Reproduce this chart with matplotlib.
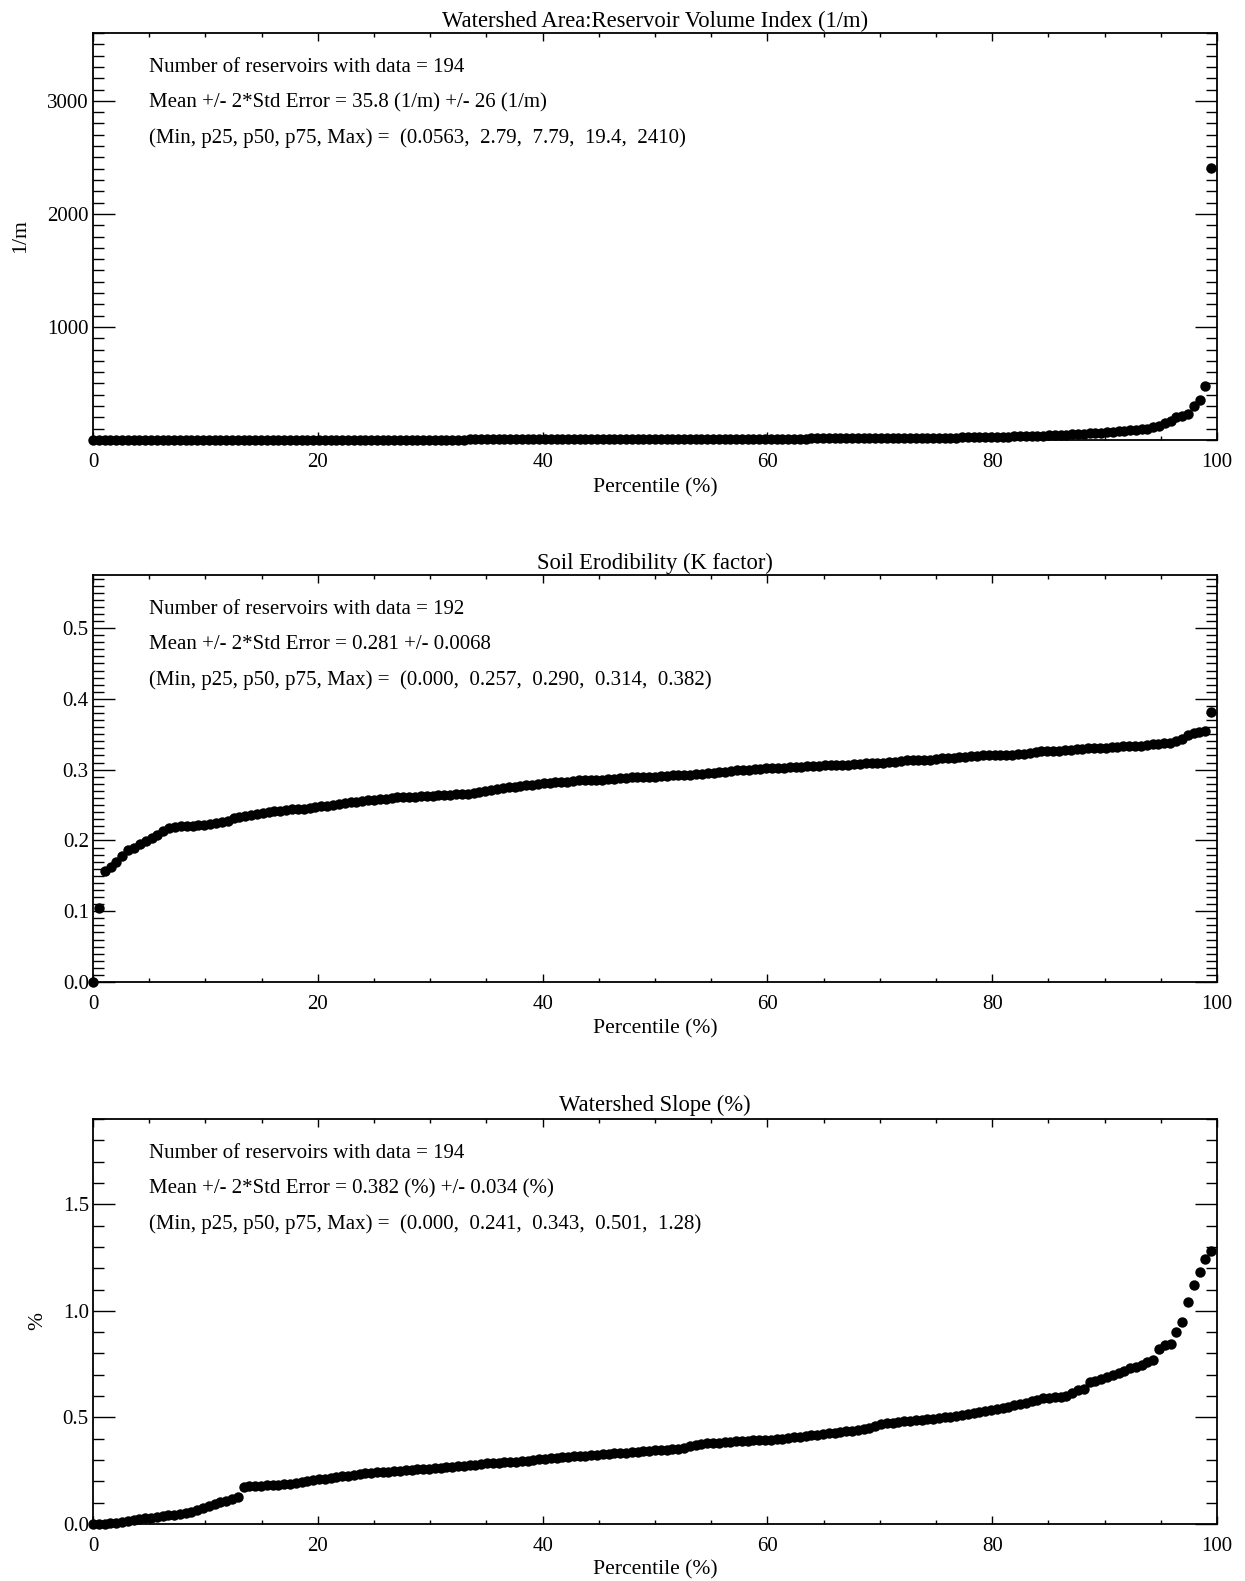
import matplotlib
matplotlib.use("Agg")
import matplotlib.pyplot as plt
from matplotlib.ticker import MultipleLocator, FixedLocator, FormatStrFormatter

plt.rcParams['font.family'] = ['Liberation Serif', 'DejaVu Serif']

# ---------------- data (sorted values) ----------------
titles = ["Watershed Area:Reservoir Volume Index (1/m)",
          "Soil Erodibility (K factor)",
          "Watershed Slope (%)"]
ylabels = ["1/m", "", "%"]
notes = [
    ["Number of reservoirs with data = 194",
     "Mean +/- 2*Std Error = 35.8 (1/m) +/- 26 (1/m)",
     "(Min, p25, p50, p75, Max) =  (0.0563,  2.79,  7.79,  19.4,  2410)"],
    ["Number of reservoirs with data = 192",
     "Mean +/- 2*Std Error = 0.281 +/- 0.0068",
     "(Min, p25, p50, p75, Max) =  (0.000,  0.257,  0.290,  0.314,  0.382)"],
    ["Number of reservoirs with data = 194",
     "Mean +/- 2*Std Error = 0.382 (%) +/- 0.034 (%)",
     "(Min, p25, p50, p75, Max) =  (0.000,  0.241,  0.343,  0.501,  1.28)"],
]

wa_rv_index = [
    0.0563, 0.14, 0.25, 0.36, 0.47, 0.58, 0.68, 0.78, 0.88, 0.98,
    1.07, 1.16, 1.25, 1.33, 1.41, 1.49, 1.56, 1.63, 1.70, 1.77,
    1.83, 1.89, 1.95, 2.01, 2.06, 2.11, 2.16, 2.21, 2.26, 2.30,
    2.34, 2.38, 2.42, 2.46, 2.50, 2.53, 2.56, 2.59, 2.62, 2.65,
    2.67, 2.69, 2.71, 2.73, 2.75, 2.76, 2.77, 2.78, 2.79, 2.88,
    2.98, 3.08, 3.18, 3.28, 3.38, 3.48, 3.58, 3.68, 3.78, 3.88,
    3.98, 4.08, 4.18, 4.28, 4.38, 4.48, 4.58, 4.68, 4.78, 4.88,
    4.98, 5.08, 5.18, 5.28, 5.38, 5.48, 5.58, 5.68, 5.78, 5.88,
    5.98, 6.08, 6.19, 6.30, 6.41, 6.52, 6.63, 6.74, 6.85, 6.96,
    7.07, 7.18, 7.30, 7.42, 7.54, 7.66, 7.79, 7.95, 8.11, 8.27,
    8.43, 8.60, 8.77, 8.94, 9.11, 9.29, 9.47, 9.65, 9.83, 10.0,
    10.2, 10.4, 10.6, 10.8, 11.0, 11.2, 11.4, 11.6, 11.8, 12.0,
    12.2, 12.5, 12.8, 13.1, 13.4, 13.7, 14.0, 14.3, 14.6, 14.9,
    15.2, 15.5, 15.8, 16.1, 16.4, 16.7, 17.0, 17.3, 17.6, 17.9,
    18.2, 18.5, 18.8, 19.1, 19.4, 19.8, 20.3, 20.8, 21.4, 22.0,
    22.7, 23.4, 24.2, 25.0, 25.9, 26.8, 27.8, 28.8, 29.9, 31.0,
    33.0, 34.5, 36.0, 37.5, 39.0, 40.5, 42.0, 44.0, 46.0, 49.5,
    53.0, 56.0, 59.0, 62.0, 66.0, 70.0, 74.0, 78.0, 82.0, 86.0,
    90.0, 95.0, 100.0, 112.0, 128.0, 150.0, 170.0, 205.0, 215.0, 230.0,
    305.0, 350.0, 477.0, 2410.0,
]

k_factor = [
    0.000, 0.105, 0.157, 0.163, 0.170, 0.178, 0.186, 0.190, 0.195, 0.199,
    0.203, 0.208, 0.213, 0.217, 0.219, 0.220, 0.220, 0.221, 0.222, 0.222,
    0.223, 0.224, 0.226, 0.228, 0.231, 0.233, 0.235, 0.236, 0.238, 0.239,
    0.240, 0.241, 0.242, 0.243, 0.244, 0.245, 0.245, 0.246, 0.247, 0.248,
    0.249, 0.250, 0.251, 0.253, 0.255, 0.255, 0.256, 0.257, 0.257, 0.258,
    0.259, 0.260, 0.261, 0.261, 0.262, 0.262, 0.263, 0.263, 0.263, 0.264,
    0.264, 0.264, 0.265, 0.265, 0.266, 0.267, 0.268, 0.270, 0.271, 0.273,
    0.274, 0.275, 0.276, 0.277, 0.278, 0.279, 0.280, 0.281, 0.281, 0.282,
    0.283, 0.283, 0.284, 0.285, 0.285, 0.286, 0.286, 0.286, 0.287, 0.287,
    0.288, 0.288, 0.289, 0.289, 0.289, 0.290, 0.290, 0.291, 0.291, 0.292,
    0.292, 0.293, 0.293, 0.294, 0.294, 0.295, 0.295, 0.296, 0.297, 0.298,
    0.299, 0.300, 0.300, 0.301, 0.301, 0.302, 0.302, 0.303, 0.303, 0.304,
    0.304, 0.304, 0.305, 0.305, 0.305, 0.306, 0.306, 0.307, 0.307, 0.307,
    0.308, 0.308, 0.309, 0.309, 0.310, 0.310, 0.311, 0.311, 0.312, 0.313,
    0.313, 0.314, 0.314, 0.314, 0.315, 0.316, 0.316, 0.317, 0.318, 0.318,
    0.319, 0.319, 0.320, 0.320, 0.320, 0.321, 0.321, 0.321, 0.322, 0.322,
    0.324, 0.325, 0.326, 0.326, 0.327, 0.327, 0.328, 0.328, 0.329, 0.329,
    0.330, 0.330, 0.331, 0.331, 0.332, 0.332, 0.333, 0.333, 0.334, 0.334,
    0.335, 0.336, 0.336, 0.337, 0.338, 0.340, 0.344, 0.349, 0.352, 0.353,
    0.354, 0.382,
]

slope = [
    0.000, 0.000, 0.001, 0.003, 0.006, 0.010, 0.014, 0.019, 0.023, 0.026,
    0.029, 0.032, 0.036, 0.040, 0.044, 0.047, 0.051, 0.057, 0.065, 0.075,
    0.085, 0.095, 0.103, 0.110, 0.118, 0.128, 0.172, 0.176, 0.178, 0.180,
    0.181, 0.182, 0.184, 0.186, 0.189, 0.193, 0.198, 0.202, 0.206, 0.209,
    0.212, 0.215, 0.219, 0.223, 0.227, 0.231, 0.234, 0.237, 0.240, 0.242,
    0.244, 0.246, 0.248, 0.250, 0.252, 0.254, 0.256, 0.258, 0.260, 0.262,
    0.264, 0.266, 0.268, 0.270, 0.272, 0.275, 0.279, 0.282, 0.284, 0.286,
    0.288, 0.290, 0.291, 0.293, 0.295, 0.297, 0.300, 0.304, 0.307, 0.309,
    0.311, 0.313, 0.315, 0.317, 0.319, 0.321, 0.323, 0.325, 0.327, 0.329,
    0.331, 0.333, 0.335, 0.337, 0.339, 0.341, 0.343, 0.345, 0.347, 0.349,
    0.351, 0.354, 0.358, 0.365, 0.372, 0.376, 0.378, 0.380, 0.382, 0.384,
    0.386, 0.388, 0.390, 0.391, 0.392, 0.393, 0.394, 0.396, 0.398, 0.401,
    0.404, 0.407, 0.410, 0.413, 0.416, 0.419, 0.422, 0.425, 0.428, 0.431,
    0.434, 0.438, 0.443, 0.447, 0.452, 0.460, 0.467, 0.472, 0.475, 0.478,
    0.481, 0.484, 0.487, 0.489, 0.492, 0.494, 0.497, 0.500, 0.503, 0.507,
    0.510, 0.515, 0.520, 0.525, 0.530, 0.535, 0.540, 0.545, 0.550, 0.556,
    0.563, 0.570, 0.577, 0.583, 0.590, 0.593, 0.595, 0.597, 0.600, 0.615,
    0.630, 0.635, 0.665, 0.670, 0.680, 0.690, 0.700, 0.710, 0.720, 0.730,
    0.735, 0.745, 0.760, 0.770, 0.820, 0.842, 0.845, 0.900, 0.950, 1.040,
    1.120, 1.180, 1.245, 1.280,
]

series = [wa_rv_index, k_factor, slope]
ylims = [(0, 3600), (0, 0.575), (0, 1.9)]
ymajor = [[1000, 2000, 3000], [0.0, 0.1, 0.2, 0.3, 0.4, 0.5], [0.0, 0.5, 1.0, 1.5]]
yminor_step = [100, 0.01, 0.1]
yfmt = ["%d", "%.1f", "%.1f"]
xticks = [0, 20, 40, 60, 80, 100]

# ---------------- figure ----------------
W, H = 1245, 1581
fig = plt.figure(figsize=(W / 100, H / 100), dpi=100)

# axes boxes in pixels: (left, top, right, bottom)
boxes = [(93, 33, 1217, 440), (93, 575, 1217, 982), (93, 1119, 1217, 1524)]
title_y = [21, 563, 1105]
xlabel_y = [488, 1029, 1570]
ylabel_x = [21, None, 38]

for k in range(3):
    l, t, r, b = boxes[k]
    ax = fig.add_axes([l / W, 1 - b / H, (r - l) / W, (b - t) / H])
    vals = series[k]
    n = len(vals)
    pct = [100.0 * i / n for i in range(n)]
    ax.plot(pct, vals, 'o', color='black', ms=7.5, mew=0, clip_on=False, zorder=3)

    ax.set_xlim(0, 100)
    ax.set_ylim(*ylims[k])
    ax.xaxis.set_major_locator(FixedLocator(xticks))
    ax.xaxis.set_minor_locator(MultipleLocator(5))
    ax.yaxis.set_major_locator(FixedLocator(ymajor[k]))
    ax.yaxis.set_minor_locator(MultipleLocator(yminor_step[k]))
    ax.yaxis.set_major_formatter(FormatStrFormatter(yfmt[k]))

    ax.tick_params(axis='both', which='both', direction='in',
                   top=True, right=True, colors='black', labelsize=15)
    ax.tick_params(axis='y', which='major', length=16, width=1.0, pad=3)
    ax.tick_params(axis='y', which='minor', length=8, width=1.0)
    ax.tick_params(axis='x', which='major', length=6, width=1.0, pad=9.5)
    ax.tick_params(axis='x', which='minor', length=3, width=1.0)
    for s in ax.spines.values():
        s.set_linewidth(1.3)
        s.set_color('black')

    fig.text(0.5 * (l + r) / W, 1 - title_y[k] / H, titles[k],
             ha='center', va='center', fontsize=16.3)
    fig.text(0.5 * (l + r) / W, 1 - xlabel_y[k] / H, "Percentile (%)",
             ha='center', va='center', fontsize=15.6)
    if ylabel_x[k] is not None:
        fig.text(ylabel_x[k] / W, 1 - (0.5 * (t + b)) / H, ylabels[k],
                 ha='center', va='center', rotation=90, fontsize=15.6)

    for j, line in enumerate(notes[k]):
        fig.text(149 / W, 1 - (t + 34 + 35.5 * j) / H, line,
                 ha='left', va='center', fontsize=15)

fig.savefig("out.png", dpi=100, facecolor='white')
